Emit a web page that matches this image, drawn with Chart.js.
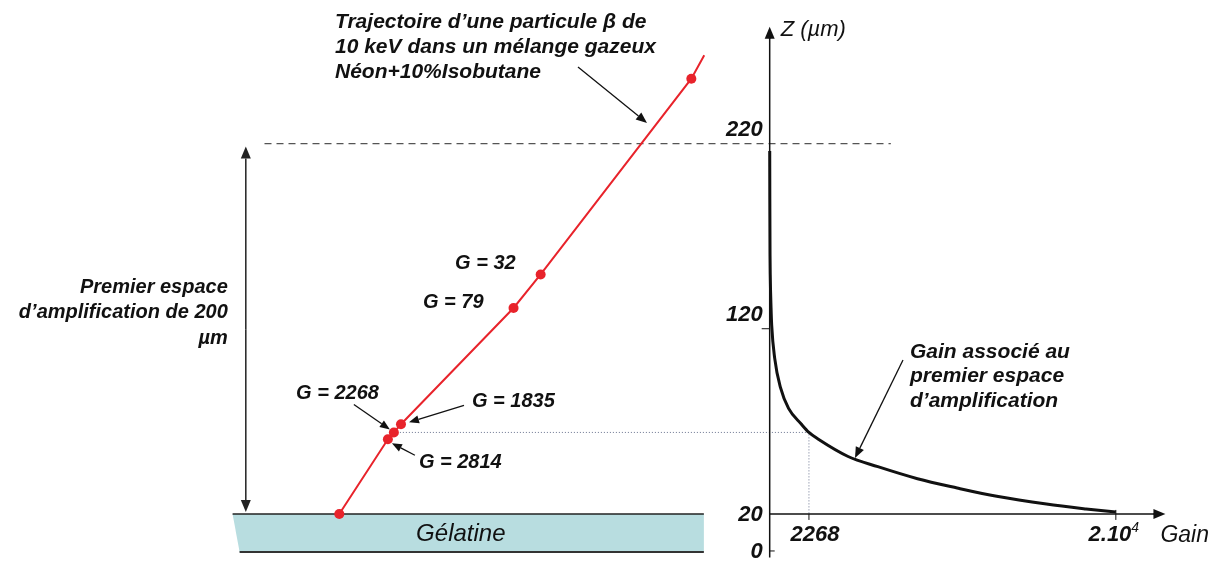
<!DOCTYPE html>
<html>
<head>
<meta charset="utf-8">
<script src="https://cdn.jsdelivr.net/npm/chart.js@4.4.1/dist/chart.umd.min.js"></script>
<style>
  html, body { margin: 0; padding: 0; background: #fff; }
  #wrap { width: 1223px; height: 568px; position: relative; }
</style>
</head>
<body>
<div id="wrap"><canvas id="gainChart"></canvas></div>
<script>
// beta particle track: lateral position and height Z, both in µm
const trackLateral = [0, 26.0, 29.2, 33.0, 93.2, 107.7, 188.3, 195.2];
const trackZ = [20, 60.3, 64.0, 68.4, 131.2, 149.3, 255.0, 267.7];
const trackGain = [null, 2814, 2268, 1835, 79, 32, null, null];
const trackDot = [true, true, true, true, true, true, true, false];

// gain of the first amplification gap against height Z
const curveGain = [2, 8, 20, 32, 79, 115, 290, 630, 1090, 1835, 2268, 2814, 4530, 6250, 8540, 10830, 13120, 15990, 18280, 20000];
const curveZ = [216, 190, 160, 149.3, 131.2, 122, 104, 88, 77, 68.4, 64, 60.3, 51, 45.5, 39, 34, 29.5, 25.3, 22.7, 21];

// axis ticks
const zTicks = [0, 20, 120, 220];
const gainTicks = [2268, 20000];
const gainTickLabels = [["2268", ""], ["2.10", "4"]];

// gelatine layer and the 200 µm gap
const gelLateral = [-56, 195];
const gelZ = [0, 20];
const gapZ = [20, 220];
const markedGain = 2268;

const RED = "#e8232b";
const INK = "#111";
const FONT = "'Liberation Sans', Arial, sans-serif";

function arrow(ctx, x1, y1, x2, y2, head = 11, half = 4.5) {
    const a = Math.atan2(y2 - y1, x2 - x1);
    const bx = x2 - head * Math.cos(a), by = y2 - head * Math.sin(a);
    ctx.beginPath();
    ctx.moveTo(x1, y1);
    ctx.lineTo(bx, by);
    ctx.stroke();
    ctx.beginPath();
    ctx.moveTo(x2, y2);
    ctx.lineTo(bx + half * Math.sin(a), by - half * Math.cos(a));
    ctx.lineTo(bx - half * Math.sin(a), by + half * Math.cos(a));
    ctx.closePath();
    ctx.fill();
}

function lines(ctx, list, x, y0, step) {
    list.forEach((t, i) => ctx.fillText(t, x, y0 + i * step));
}

// label offsets (px) from each gain point, with optional pointer arrows
const gLabelPos = {
    32: { dx: -25, dy: -11, align: "right" },
    79: { dx: -30, dy: -5, align: "right" },
    2268: { dx: -15, dy: -39, align: "right", arrow: [-40, -28, -4, -3] },
    1835: { dx: 71, dy: -23, align: "left", arrow: [63, -19, 8, -2] },
    2814: { dx: 31, dy: 23, align: "left", arrow: [27, 16, 4, 4] },
};

const diagram = {
    id: "diagram",
    beforeDatasetsDraw(chart) {
        const { ctx, scales: { xl, xg, y } } = chart;
        ctx.save();

        // gelatine
        const gx0 = xl.getPixelForValue(gelLateral[0]);
        const gx1 = xl.getPixelForValue(gelLateral[1]);
        const gTop = y.getPixelForValue(gelZ[1]);
        const gBot = y.getPixelForValue(gelZ[0]) + 1;
        ctx.fillStyle = "#b8dde0";
        ctx.beginPath();
        ctx.moveTo(gx0 - 2, gTop);
        ctx.lineTo(gx1, gTop);
        ctx.lineTo(gx1, gBot);
        ctx.lineTo(gx0 + 5, gBot);
        ctx.closePath();
        ctx.fill();
        ctx.strokeStyle = "#222";
        ctx.lineWidth = 1.5;
        ctx.beginPath();
        ctx.moveTo(gx0 - 2, gTop);
        ctx.lineTo(gx1, gTop);
        ctx.stroke();
        ctx.strokeStyle = "#333";
        ctx.lineWidth = 2;
        ctx.beginPath();
        ctx.moveTo(gx0 + 5, gBot);
        ctx.lineTo(gx1, gBot);
        ctx.stroke();
        ctx.fillStyle = INK;
        ctx.font = "italic 24px " + FONT;
        ctx.textAlign = "center";
        ctx.textBaseline = "middle";
        ctx.fillText("Gélatine", xl.getPixelForValue(65), (gTop + gBot) / 2 + 1);

        // top of the gap
        const z220 = y.getPixelForValue(gapZ[1]);
        ctx.strokeStyle = "#555";
        ctx.lineWidth = 1.3;
        ctx.setLineDash([7, 5]);
        ctx.beginPath();
        ctx.moveTo(xl.getPixelForValue(-40), z220);
        ctx.lineTo(xg.getPixelForValue(7000), z220);
        ctx.stroke();

        // dotted guide for the marked gain
        const i = trackGain.indexOf(markedGain);
        const gy = y.getPixelForValue(trackZ[i]);
        const gx = xg.getPixelForValue(markedGain);
        ctx.strokeStyle = "#6b7590";
        ctx.lineWidth = 1;
        ctx.setLineDash([1, 2]);
        ctx.beginPath();
        ctx.moveTo(xl.getPixelForValue(trackLateral[i]), gy);
        ctx.lineTo(gx, gy);
        ctx.lineTo(gx, y.getPixelForValue(20));
        ctx.stroke();
        ctx.restore();
    },
    afterDatasetsDraw(chart) {
        const { ctx, scales: { xl, xg, y } } = chart;
        ctx.save();
        ctx.strokeStyle = INK;
        ctx.fillStyle = INK;
        ctx.lineWidth = 1.5;

        // Z axis and gain axis
        const ax = xg.getPixelForValue(0);
        const ay = y.getPixelForValue(20);
        const gainEnd = xg.getPixelForValue(22865);
        const zEnd = y.getPixelForValue(283);
        ctx.beginPath();
        ctx.moveTo(ax, y.getPixelForValue(-3.5));
        ctx.lineTo(ax, zEnd + 8);
        ctx.stroke();
        arrow(ctx, ax, zEnd + 10, ax, zEnd, 12, 5);
        ctx.beginPath();
        ctx.moveTo(ax, ay);
        ctx.lineTo(gainEnd - 8, ay);
        ctx.stroke();
        arrow(ctx, gainEnd - 10, ay, gainEnd, ay, 12, 5);

        ctx.lineWidth = 1;
        ctx.font = "bold italic 22px " + FONT;
        ctx.textAlign = "right";
        zTicks.forEach((z) => {
            const py = y.getPixelForValue(z);
            if (z === 120) {
                ctx.beginPath();
                ctx.moveTo(ax - 8, py);
                ctx.lineTo(ax, py);
                ctx.stroke();
            }
            if (z === 0) {
                ctx.beginPath();
                ctx.moveTo(ax, py);
                ctx.lineTo(ax + 5, py);
                ctx.stroke();
            }
            ctx.textBaseline = z > 20 ? "bottom" : "middle";
            ctx.fillText(String(z), ax - 7, z > 20 ? py - 3 : py + 1);
        });

        gainTicks.forEach((g, k) => {
            const px = xg.getPixelForValue(g);
            ctx.beginPath();
            ctx.moveTo(px, ay - (k ? 4 : 0));
            ctx.lineTo(px, ay + 6);
            ctx.stroke();
            const [main, sup] = gainTickLabels[k];
            ctx.font = "bold italic 22px " + FONT;
            const w1 = ctx.measureText(main).width;
            ctx.font = "italic 14px " + FONT;
            const w2 = sup ? ctx.measureText(sup).width : 0;
            const left = px - (w1 + w2) / 2 + (sup ? -2 : 6);
            ctx.textAlign = "left";
            ctx.textBaseline = "middle";
            ctx.font = "bold italic 22px " + FONT;
            ctx.fillText(main, left, ay + 21);
            if (sup) {
                ctx.font = "italic 14px " + FONT;
                ctx.fillText(sup, left + w1, ay + 14);
            }
        });

        ctx.font = "italic 23px " + FONT;
        ctx.textAlign = "left";
        ctx.textBaseline = "middle";
        ctx.fillText("Gain", gainEnd - 5, ay + 22);
        ctx.font = "italic 22px " + FONT;
        ctx.fillText("Z (µm)", ax + 11, zEnd + 3);

        // 200 µm gap marker
        const lx = xl.getPixelForValue(-50);
        ctx.lineWidth = 1.5;
        ctx.strokeStyle = "#222";
        ctx.fillStyle = "#222";
        const yTop = y.getPixelForValue(gapZ[1]) + 3;
        const yBot = y.getPixelForValue(gapZ[0]) - 2;
        const mid = (yTop + yBot) / 2;
        arrow(ctx, lx, mid, lx, yTop, 12, 5);
        arrow(ctx, lx, mid, lx, yBot, 12, 5);

        ctx.fillStyle = INK;
        ctx.strokeStyle = INK;
        ctx.font = "bold italic 20px " + FONT;
        ctx.textAlign = "right";
        lines(ctx, ["Premier espace", "d\u2019amplification de 200", "µm"], lx - 18, 287, 25.5);

        // gain labels on the track
        trackGain.forEach((g, k) => {
            if (g === null) return;
            const px = xl.getPixelForValue(trackLateral[k]);
            const py = y.getPixelForValue(trackZ[k]);
            const p = gLabelPos[g];
            ctx.textAlign = p.align;
            ctx.fillText("G = " + g, px + p.dx, py + p.dy);
            if (p.arrow) {
                ctx.lineWidth = 1.3;
                arrow(ctx, px + p.arrow[0], py + p.arrow[1], px + p.arrow[2], py + p.arrow[3], 10, 4);
            }
        });

        // track caption
        ctx.font = "bold italic 21px " + FONT;
        ctx.textAlign = "left";
        lines(ctx, ["Trajectoire d\u2019une particule \u03b2 de", "10 keV dans un mélange gazeux", "Néon+10%Isobutane"], 335, 22, 25);
        ctx.lineWidth = 1.3;
        arrow(ctx, 578, 67, 647, 123, 11, 4.5);

        // curve caption
        lines(ctx, ["Gain associé au", "premier espace", "d\u2019amplification"], 910, 352, 24.5);
        arrow(ctx, 903, 360, 855, 458, 11, 4.5);
        ctx.restore();
    },
};

new Chart(document.getElementById("gainChart"), {
    type: "line",
    data: {
        datasets: [
            {
                label: "Trajectoire",
                xAxisID: "xl",
                data: trackLateral.map((x, i) => ({ x, y: trackZ[i] })),
                borderColor: RED,
                borderWidth: 2,
                pointRadius: trackDot.map((d) => (d ? 5 : 0)),
                pointBackgroundColor: RED,
                pointBorderWidth: 0,
                tension: 0,
                order: 1,
            },
            {
                label: "Gain",
                xAxisID: "xg",
                data: curveGain.map((x, i) => ({ x, y: curveZ[i] })),
                borderColor: INK,
                borderWidth: 3,
                pointRadius: 0,
                cubicInterpolationMode: "monotone",
                order: 2,
            },
        ],
    },
    options: {
        responsive: true,
        maintainAspectRatio: false,
        animation: false,
        layout: { padding: 0 },
        plugins: { legend: { display: false }, tooltip: { enabled: false } },
        scales: {
            xl: { type: "linear", axis: "x", min: -178.8, max: 470, display: false },
            xg: { type: "linear", axis: "x", min: -44183, max: 25903, display: false },
            y: { type: "linear", min: -6.5, max: 294.8, display: false },
        },
    },
    plugins: [diagram],
});
</script>
</body>
</html>
